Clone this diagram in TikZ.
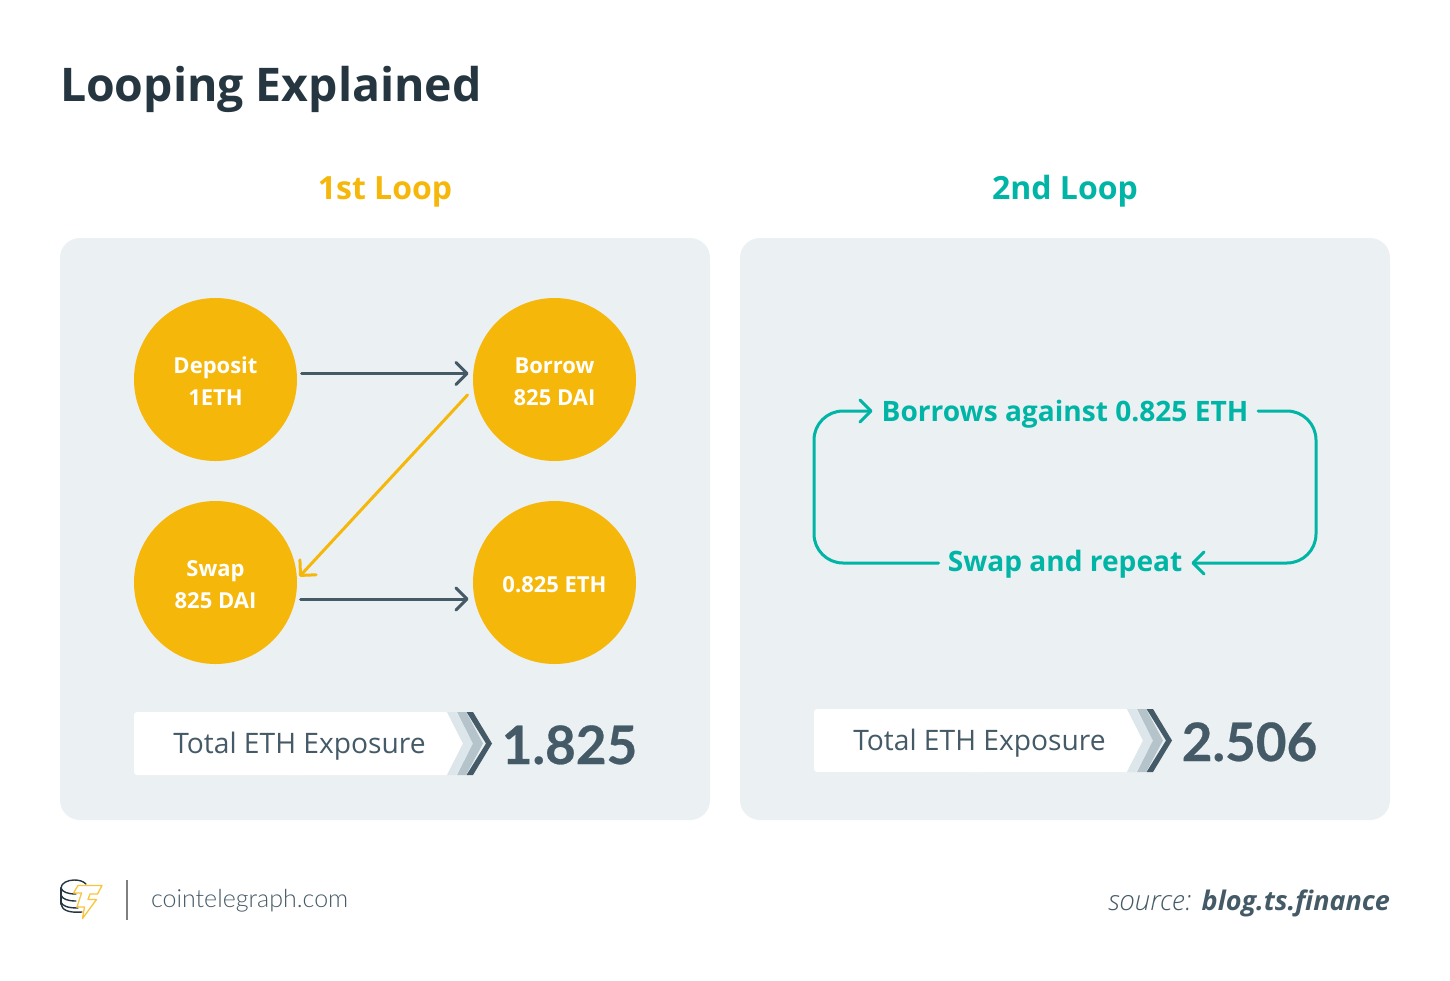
\documentclass[tikz,border=0pt]{standalone}
\usepackage{fontspec}
\setmainfont{Open Sans}
\newfontfamily\latofont[BoldFeatures={FakeBold=0.5}]{Lato}
\newfontfamily\lightfont{Lato Light}
\newfontfamily\oslight{Open Sans Light}
\usetikzlibrary{arrows.meta,calc}
\definecolor{panelc}{HTML}{EBF0F3}
\definecolor{gold}{HTML}{F6B70B}
\definecolor{teal2}{HTML}{00B5A5}
\definecolor{slate}{HTML}{455A67}
\definecolor{titlec}{HTML}{263640}
\definecolor{chevA}{HTML}{DDE6EB}
\definecolor{chevB}{HTML}{B5C3CA}
\tikzset{
 px/.style={inner sep=0pt,outer sep=0pt},
 panel/.style={fill=panelc,rounded corners=20pt},
 coin/.style={circle,fill=gold,minimum size=163pt,inner sep=0pt},
 coinlab/.style={px,yshift=-2pt,text=white,font=\fontsize{22}{32}\selectfont\bfseries,align=center},
 bar/.style={line width=3pt,line cap=round,-{Straight Barb[length=11pt,width=22pt,line width=3pt,round]}},
 loopline/.style={line width=3pt,line cap=round,draw=teal2,rounded corners=29pt},
 looptext/.style={px,text=teal2,font=\fontsize{28.1}{34}\selectfont\bfseries,anchor=base},
 looptip/.style={-{Straight Barb[length=11pt,width=22pt,line width=3pt,round]}},
 head/.style={px,font=\fontsize{32}{38}\selectfont\bfseries,anchor=base},
 totl/.style={px,text=slate,font=\fontsize{28.2}{34}\selectfont,anchor=base},
 num/.style={px,text=slate,font=\latofont\fontsize{53}{60}\selectfont\bfseries,anchor=base},
}
\newcommand{\exposure}[2]{%
 \begin{scope}[shift={(#1,#2)}]
 \fill[white,rounded corners=3pt] (134,712) -- (300,712) -- (300,775) -- (134,775) -- cycle;
 \fill[white] (290,712) -- (447,712) -- (463,743.5) -- (447,775) -- (290,775) -- cycle;
 \fill[chevA] (447,712) -- (456,712) -- (473,743.5) -- (456,775) -- (447,775) -- (463,743.5) -- cycle;
 \fill[chevB] (457,712) -- (466,712) -- (483,743.5) -- (466,775) -- (457,775) -- (473,743.5) -- cycle;
 \fill[slate] (466.5,712) -- (473,712) -- (492,743.5) -- (473,775) -- (466.5,775) -- (486,743.5) -- cycle;
 \end{scope}}
\begin{document}
\begin{tikzpicture}[x=1pt,y=-1pt]
\useasboundingbox (0,0) rectangle (1450,980);
\fill[white] (0,0) rectangle (1450,980);
\node[px,text=titlec,font=\fontsize{46.4}{56}\selectfont\bfseries,anchor=base west] (title) at (60,101) {Looping Explained};
\node[head,text=gold] (h1) at (385,199) {1st Loop};
\node[head,text=teal2] (h2) at (1065,199) {2nd Loop};
\fill[panel] (60,238) rectangle (710,820);
\fill[panel] (740,238) rectangle (1390,820);
\node[coin,label={[coinlab]center:{Deposit\\1ETH}}] (dep) at (215.5,379.5) {};
\node[coin,label={[coinlab]center:{Borrow\\825 DAI}}] (bor) at (554.5,379.5) {};
\node[coin,label={[coinlab]center:{Swap\\825 DAI}}] (swp) at (215.5,582.5) {};
\node[coin,label={[coinlab]center:{0.825 ETH}}] (eth) at (554.5,582.5) {};
\draw[bar,draw=slate] ($(dep.center)+(86,-6)$) -- ($(bor.center)+(-86,-6)$);
\draw[bar,draw=slate] ($(swp.center)+(85,16.5)$) -- ($(eth.center)+(-86,16.5)$);
\draw[bar,draw=gold] ($(bor.center)+(-87,15.5)$) -- ($(swp.center)+(84,-6)$);
\exposure{0}{0}
\exposure{680}{-3}
\node[totl] (t1) at (299.5,753) {Total ETH Exposure};
\node[totl] (t2) at (979.5,750) {Total ETH Exposure};
\node[num] (n1) at (569.5,764) {1.825};
\node[num] (n2) at (1249.5,761) {2.506};
\node[looptext] (l1) at (1065,421) {Borrows against 0.825 ETH};
\node[looptext] (l2) at (1065,571) {Swap and repeat};
\coordinate (a) at (938.5,563);
\coordinate (b) at (872.5,411);
\coordinate (c) at (1258,411);
\coordinate (d) at (1191.5,563);
\draw[loopline,looptip] (a) -- (814,563) -- (814,411) -- (b);
\draw[loopline,looptip] (c) -- (1316,411) -- (1316,563) -- (d);
% logo
\begin{scope}[line width=1.4pt,line cap=round]
\draw[titlec] (61,888) .. controls (61,883) and (68,880) .. (74,880) .. controls (79,880) and (83,881) .. (86,884);
\draw[titlec] (61,888) .. controls (62,892) and (68,894) .. (76,894);
\draw[titlec] (61,888) -- (61,904);
\draw[titlec] (61,895) .. controls (62,899) and (68,901) .. (76,901);
\draw[titlec] (61,902) .. controls (62,906) and (68,908) .. (78,908);
\draw[titlec] (61,904) .. controls (62,910) and (68,913) .. (82,912);
\end{scope}
\draw[gold!80,line width=1.3pt,line join=round,fill=white] (73.5,893) -- (78,885.5) -- (102,885.5) -- (97.5,894) -- (90,894) -- (88,899.5) -- (96.5,899.5) -- (82.5,918.5) -- (84.5,907) -- (77,907) -- (81.5,893) -- cycle;
\draw[gray,line width=1.8pt] (127,880) -- (127,920);
\node[px,text=slate,font=\lightfont\fontsize{25}{30}\selectfont,anchor=base west] (ct) at (151,907) {cointelegraph.com};
\node[px,text=slate,font=\fontsize{27}{32}\selectfont,anchor=base east] (src) at (1390,910) {{\oslight\itshape\fontsize{27.8}{32}\selectfont source:}\hspace{1pt} {\itshape\bfseries blog.ts.finance}};
\end{tikzpicture}
\end{document}
